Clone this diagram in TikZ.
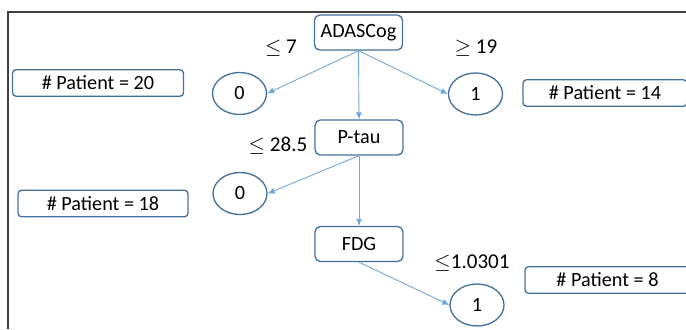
\documentclass[tikz,border=0pt]{standalone}
\usepackage{fontspec}
\setmainfont{Carlito}
\usepackage{amsmath,amssymb}
\usetikzlibrary{arrows.meta,shapes.geometric}
\definecolor{boxblue}{RGB}{65,113,156}
\definecolor{arrowblue}{RGB}{110,165,220}
\definecolor{framegray}{RGB}{64,64,64}

\tikzset{
  feature/.style={draw=boxblue, line width=0.75pt, rounded corners=3pt, minimum width=1.76cm, minimum height=0.70cm, inner sep=0pt, font=\fontsize{11.5}{13}\selectfont},
  leaf/.style={draw=boxblue, line width=0.75pt, ellipse, minimum width=1.08cm, minimum height=0.84cm, inner sep=0pt, font=\fontsize{11.5}{13}\selectfont},
  count/.style={draw=boxblue, line width=0.75pt, rounded corners=2pt, minimum height=0.53cm, inner sep=0pt, font=\fontsize{11.5}{13}\selectfont},
  split/.style={inner sep=0pt, font=\fontsize{12}{14}\selectfont},
  branch/.style={draw=arrowblue, line width=0.5pt, -{Latex[length=4pt,width=3.5pt]}}
}

\begin{document}
\begin{tikzpicture}[x=0.02cm, y=-0.02cm]
  \clip (0,0) rectangle (686,329);
  \draw[framegray, line width=0.7pt] (8,329) -- (8,12) -- (690,12);

  \node[feature] (adas) at (358.5,32.5) {ADASCog};
  \node[feature] (ptau) at (359,137.5) {P-tau};
  \node[feature] (fdg) at (359,244) {FDG};

  \node[leaf] (leafA) at (239.5,93.5) {0};
  \node[leaf] (leafB) at (475.5,94) {1};
  \node[leaf] (leafC) at (240,193.5) {0};
  \node[leaf] (leafD) at (477,305) {1};

  \node[split] (le7) at (281,48) {$\leq$ 7};
  \node[split] (ge19) at (476,48) {$\geq$ 19};
  \node[split] (le285) at (278,146) {$\leq$ 28.5};
  \node[split] (le1) at (472,263) {$\leq$1.0301};

  \node[count, minimum width=3.42cm] (pat20) at (98,83) {\# Patient = 20};
  \node[count, minimum width=3.28cm] (pat14) at (605,93) {\# Patient = 14};
  \node[count, minimum width=3.40cm] (pat18) at (103,203.5) {\# Patient = 18};
  \node[count, minimum width=3.30cm] (pat8) at (607.5,280) {\# Patient = 8};

  \draw[branch] (adas.south) -- (leafA.east);
  \draw[branch] (adas.south) -- (leafB.west);
  \draw[branch] (adas.south) -- (ptau.north);
  \draw[branch] (ptau.south) -- (leafC.east);
  \draw[branch] (ptau.south) -- (fdg.north);
  \draw[branch] (fdg.south) -- (leafD.west);
\end{tikzpicture}
\end{document}
